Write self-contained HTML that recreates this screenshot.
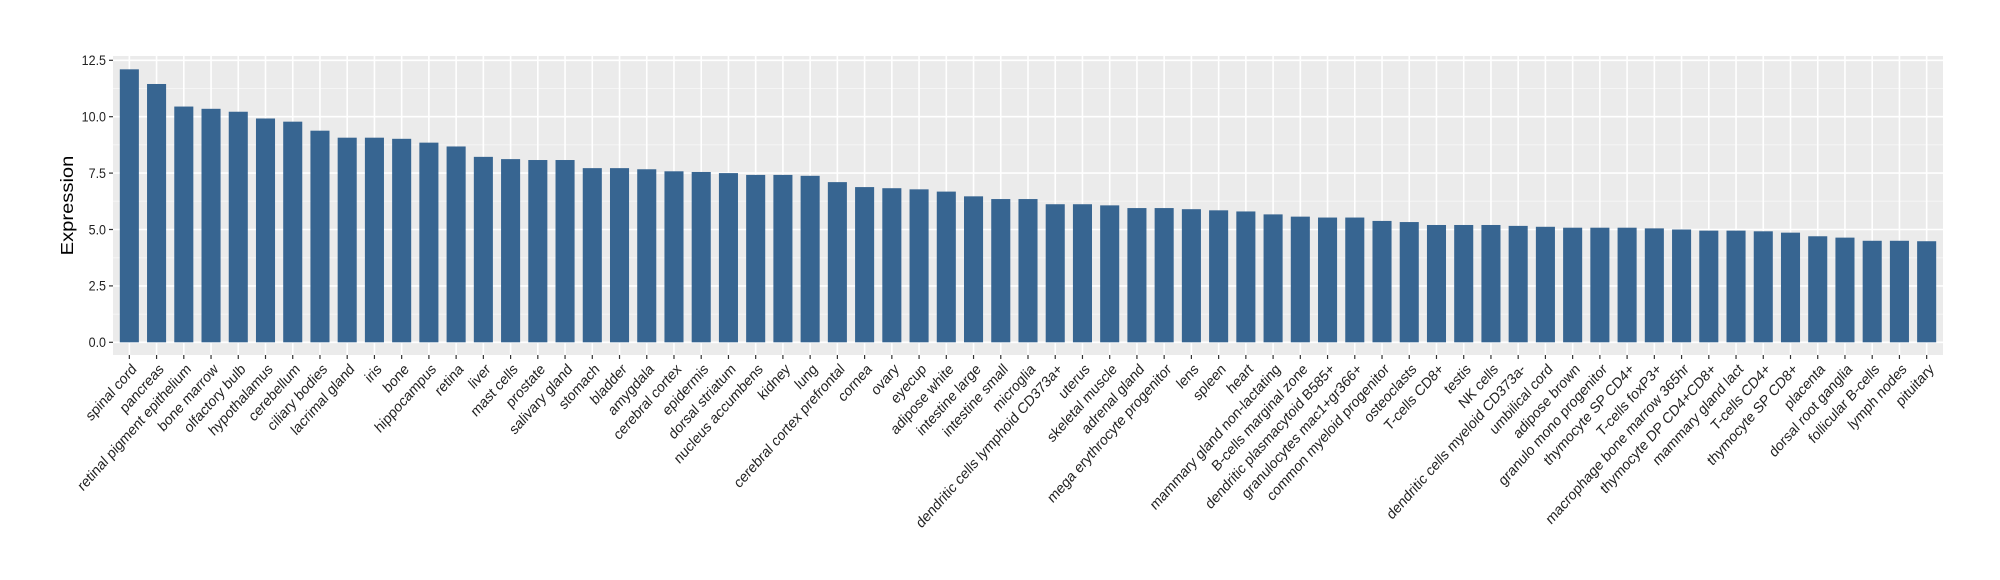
<!DOCTYPE html>
<html><head><meta charset="utf-8"><style>
html,body{margin:0;padding:0;background:#fff;}
svg{display:block;font-family:"Liberation Sans",Arial,sans-serif;}
</style></head><body>
<svg id="chart" width="2000" height="580" viewBox="0 0 2000 580" xmlns="http://www.w3.org/2000/svg"></svg>
<script>
const categories=["spinal cord","pancreas","retinal pigment epithelium","bone marrow","olfactory bulb","hypothalamus","cerebellum","ciliary bodies","lacrimal gland","iris","bone","hippocampus","retina","liver","mast cells","prostate","salivary gland","stomach","bladder","amygdala","cerebral cortex","epidermis","dorsal striatum","nucleus accumbens","kidney","lung","cerebral cortex prefrontal","cornea","ovary","eyecup","adipose white","intestine large","intestine small","microglia","dendritic cells lymphoid CD373a+","uterus","skeletal muscle","adrenal gland","mega erythrocyte progenitor","lens","spleen","heart","mammary gland non-lactating","B-cells marginal zone","dendritic plasmacytoid B585+","granulocytes mac1+gr366+","common myeloid progenitor","osteoclasts","T-cells CD8+","testis","NK cells","dendritic cells myeloid CD373a-","umbilical cord","adipose brown","granulo mono progenitor","thymocyte SP CD4+","T-cells foxP3+","macrophage bone marrow 365hr","thymocyte DP CD4+CD8+","mammary gland  lact","T-cells CD4+","thymocyte SP CD8+","placenta","dorsal root ganglia","follicular B-cells","lymph nodes","pituitary"];
const values=[12.1,11.45,10.45,10.35,10.22,9.92,9.78,9.38,9.07,9.07,9.02,8.85,8.68,8.22,8.12,8.08,8.08,7.72,7.72,7.67,7.58,7.55,7.5,7.42,7.42,7.38,7.1,6.88,6.83,6.78,6.68,6.47,6.35,6.35,6.12,6.12,6.07,5.95,5.95,5.9,5.85,5.8,5.67,5.57,5.53,5.53,5.38,5.33,5.2,5.2,5.2,5.16,5.12,5.08,5.08,5.08,5.05,5.0,4.95,4.95,4.92,4.86,4.7,4.64,4.5,4.5,4.48];
const yTicks=[0,2.5,5,7.5,10,12.5];
const yTickLabels=["0.0","2.5","5.0","7.5","10.0","12.5"];

const NS="http://www.w3.org/2000/svg";
const svg=document.getElementById('chart');
const P={l:113,r:1943,t:56,b:355};
const y0=342.3, pxPerUnit=22.56;
const Y=v=>y0-v*pxPerUnit;
const n=categories.length;
const step=(P.r-P.l)/(n-1+1.2);
const X=i=>P.l+step*(0.6+i);
const SY=1.12;
function el(tag,attrs,parent){const e=document.createElementNS(NS,tag);for(const k in attrs)e.setAttribute(k,attrs[k]);(parent||svg).appendChild(e);return e;}

const panel=el('rect',{x:P.l,y:P.t,width:P.r-P.l,height:P.b-P.t,fill:'#EBEBEB'});


for(let i=0;i<yTicks.length-1;i++){
  const m=(yTicks[i]+yTicks[i+1])/2;
  const g=el('line',{x1:P.l,x2:P.r,y1:Y(m),y2:Y(m),stroke:'#F5F5F5','stroke-width':1});
  
  
}
yTicks.forEach((t,i)=>{
  const g=el('line',{x1:P.l,x2:P.r,y1:Y(t),y2:Y(t),stroke:'#fff','stroke-width':1.6});
  
  
  const tk=el('line',{x1:P.l-4,x2:P.l,y1:Y(t),y2:Y(t),stroke:'#333','stroke-width':1.2});
  
  
  const tx=el('text',{x:0,y:0,'text-anchor':'end','font-size':12.5,fill:'#222',transform:`translate(${P.l-7} ${Y(t)+4.8}) scale(1 ${SY})`});
  tx.textContent=yTickLabels[i];
  
  
});
categories.forEach((c,i)=>{
  const x=X(i);
  const g=el('line',{x1:x,x2:x,y1:P.t,y2:P.b,stroke:'#fff','stroke-width':1.6});
  
  
});
const bw=step*0.7;
categories.forEach((c,i)=>{
  const x=X(i);
  const b=el('rect',{x:x-bw/2,y:Y(values[i]),width:bw,height:Y(0)-Y(values[i]),fill:'#376591'});
  
  
  const tk=el('line',{x1:x,x2:x,y1:P.b,y2:P.b+4,stroke:'#333','stroke-width':1.2});
  
  
  const tx=el('text',{x:0,y:0,'text-anchor':'end','font-size':13.5,fill:'#222',transform:`translate(${x+8} ${P.b+15}) scale(1 ${SY}) rotate(-45)`});
  tx.textContent=c;
  
  
});
const cy=(P.t+P.b)/2;
const yt=el('text',{x:0,y:0,'text-anchor':'middle','font-size':18,fill:'#000',transform:`translate(73 ${cy}) scale(1 ${SY}) rotate(-90)`});
yt.textContent='Expression';


</script>
</body></html>
